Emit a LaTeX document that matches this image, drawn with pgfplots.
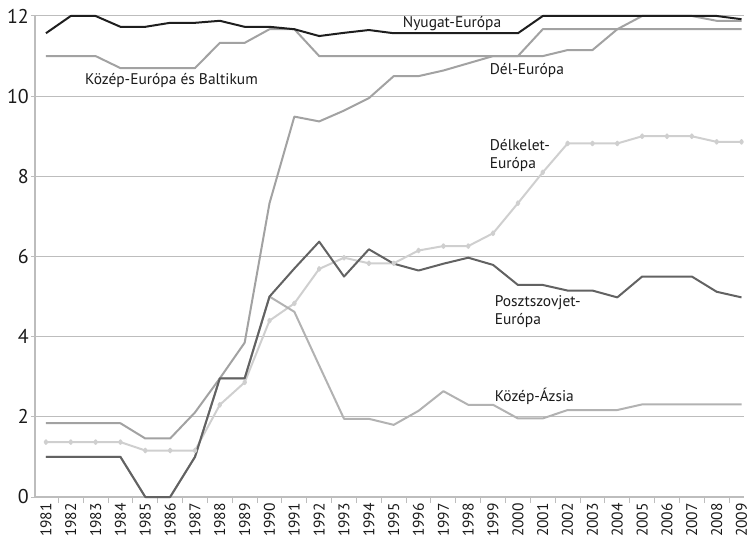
\documentclass[border=0pt]{standalone}
\usepackage{fontspec}
\setmainfont{PT Sans}
\usepackage{pgfplots}
\pgfplotsset{compat=1.18}
\definecolor{gridc}{HTML}{BDBDBD}
\definecolor{cNy}{HTML}{1E1E1E}
\definecolor{cPsz}{HTML}{626262}
\definecolor{cMid}{HTML}{A2A2A2}
\definecolor{cKA}{HTML}{B2B2B2}
\definecolor{cDK}{HTML}{CFCFCF}
\definecolor{txt}{HTML}{1A1A1A}
\begin{document}
\begin{tikzpicture}
\begin{axis}[
  scale only axis, width=709bp, height=481bp,
  xmin=1980.56, xmax=2009.1, ymin=0, ymax=12,
  clip=false,
  axis x line*=bottom, axis y line*=left,
  axis line style={draw=gridc, line width=1.5bp},
  ytick={0,2,...,12},
  ymajorgrids, grid style={draw=gridc, line width=1bp},
  xtick={1981,...,2009},
  minor xtick={1981.5,1982.5,...,2008.5},
  tick align=outside,
  major tick length=4bp, minor tick length=6bp,
  xtick style={draw=none},
  minor x tick style={draw=gridc, line width=1bp},
  ytick style={draw=gridc, line width=1bp},
  /pgf/number format/assume math mode=true,
  /pgf/number format/1000 sep={},
  xticklabel style={rotate=90, anchor=east, font=\fontsize{15.5}{15.5}\selectfont, text=txt, inner sep=2bp},
  yticklabel style={font=\fontsize{20}{20}\selectfont, text=txt, inner sep=2bp},
  every axis plot/.append style={line width=2bp, line join=round},
]
% Delkelet-Europa
\addplot[cDK, mark=diamond*, mark size=1.8bp, mark options={solid, fill=cDK, draw=cDK}] coordinates {
(1981,1.37)(1982,1.37)(1983,1.37)(1984,1.37)(1985,1.16)(1986,1.16)(1987,1.16)(1988,2.3)(1989,2.86)(1990,4.4)
(1991,4.83)(1992,5.69)(1993,5.97)(1994,5.83)(1995,5.83)(1996,6.15)(1997,6.26)(1998,6.26)(1999,6.58)(2000,7.33)
(2001,8.1)(2002,8.82)(2003,8.82)(2004,8.82)(2005,9)(2006,9)(2007,9)(2008,8.86)(2009,8.86)};
% Kozep-Azsia
\addplot[cKA] coordinates {
(1981,1)(1982,1)(1983,1)(1984,1)(1985,0)(1986,0)(1987,1)(1988,2.96)(1989,2.96)(1990,5)
(1991,4.62)(1992,3.28)(1993,1.95)(1994,1.95)(1995,1.8)(1996,2.15)(1997,2.64)(1998,2.3)(1999,2.3)(2000,1.96)
(2001,1.96)(2002,2.17)(2003,2.17)(2004,2.17)(2005,2.31)(2006,2.31)(2007,2.31)(2008,2.31)(2009,2.31)};
% Del-Europa
\addplot[cMid] coordinates {
(1981,1.84)(1982,1.84)(1983,1.84)(1984,1.84)(1985,1.46)(1986,1.46)(1987,2.11)(1988,2.96)(1989,3.85)(1990,7.33)
(1991,9.49)(1992,9.37)(1993,9.64)(1994,9.95)(1995,10.5)(1996,10.5)(1997,10.64)(1998,10.82)(1999,11)(2000,11)
(2001,11)(2002,11.15)(2003,11.15)(2004,11.67)(2005,12)(2006,12)(2007,12)(2008,11.88)(2009,11.88)};
% Kozep-Europa es Baltikum
\addplot[cMid] coordinates {
(1981,11)(1982,11)(1983,11)(1984,10.7)(1985,10.7)(1986,10.7)(1987,10.7)(1988,11.33)(1989,11.33)(1990,11.67)
(1991,11.67)(1992,11)(1993,11)(1994,11)(1995,11)(1996,11)(1997,11)(1998,11)(1999,11)(2000,11)
(2001,11.67)(2002,11.67)(2003,11.67)(2004,11.67)(2005,11.67)(2006,11.67)(2007,11.67)(2008,11.67)(2009,11.67)};
% Posztszovjet-Europa
\addplot[cPsz] coordinates {
(1981,1)(1982,1)(1983,1)(1984,1)(1985,0)(1986,0)(1987,1)(1988,2.96)(1989,2.96)(1990,5)
(1991,5.7)(1992,6.37)(1993,5.5)(1994,6.18)(1995,5.82)(1996,5.65)(1997,5.82)(1998,5.97)(1999,5.79)(2000,5.29)
(2001,5.29)(2002,5.15)(2003,5.15)(2004,4.98)(2005,5.5)(2006,5.5)(2007,5.5)(2008,5.12)(2009,4.98)};
% Nyugat-Europa
\addplot[cNy] coordinates {
(1981,11.57)(1982,12)(1983,12)(1984,11.73)(1985,11.73)(1986,11.83)(1987,11.83)(1988,11.88)(1989,11.73)(1990,11.73)
(1991,11.67)(1992,11.5)(1993,11.58)(1994,11.65)(1995,11.57)(1996,11.57)(1997,11.57)(1998,11.57)(1999,11.57)(2000,11.57)
(2001,12)(2002,12)(2003,12)(2004,12)(2005,12)(2006,12)(2007,12)(2008,12)(2009,11.92)};
\begin{scope}[every node/.style={font=\fontsize{15.5}{18.5}\selectfont, text=txt, inner sep=0pt, anchor=west, align=left}]
\node at (axis cs:1995.36,11.8) {Nyugat-Európa};
\node at (axis cs:1982.57,10.4) {Közép-Európa és Baltikum};
\node at (axis cs:1998.86,10.64) {Dél-Európa};
\node at (axis cs:1998.86,8.52) {Délkelet-\\Európa};
\node at (axis cs:1999.06,4.62) {Posztszovjet-\\Európa};
\node at (axis cs:1999.06,2.52) {Közép-Ázsia};
\end{scope}
\end{axis}
\pgfresetboundingbox
\path[use as bounding box] ([shift={(-35bp,-43bp)}]current axis.south west) rectangle ([shift={(6bp,16bp)}]current axis.north east);
\end{tikzpicture}
\end{document}
